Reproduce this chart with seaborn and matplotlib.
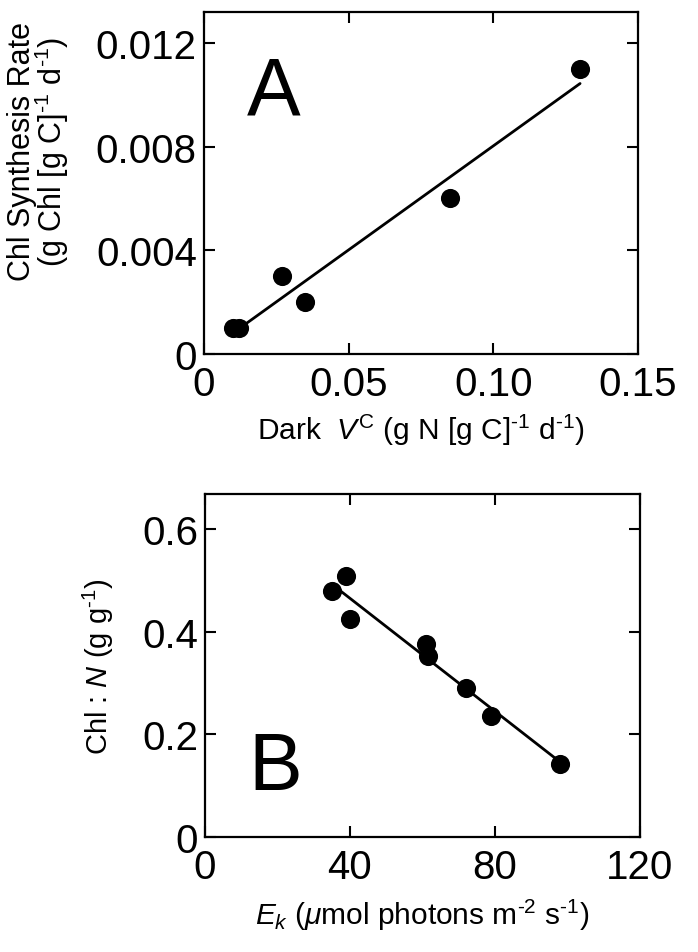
import numpy as np
import pandas as pd
import seaborn as sns
import matplotlib.pyplot as plt

# panel A: dark N uptake vs Chl synthesis rate
vc_dark = [0.010, 0.012, 0.027, 0.035, 0.085, 0.130]
chl_synth = [0.0010, 0.0010, 0.0030, 0.0020, 0.0060, 0.0110]

# panel B: Ek vs Chl:N
ek = [35, 39, 40, 61, 61.5, 72, 79, 98]
chl_n = [0.478, 0.509, 0.425, 0.375, 0.352, 0.290, 0.236, 0.143]

a_xticks = [0, 0.05, 0.10, 0.15]
a_xlabels = ["0", "0.05", "0.10", "0.15"]
a_yticks = [0, 0.004, 0.008, 0.012]
a_ylabels = ["0", "0.004", "0.008", "0.012"]
b_xticks = [0, 40, 80, 120]
b_xlabels = ["0", "40", "80", "120"]
b_yticks = [0, 0.2, 0.4, 0.6]
b_ylabels = ["0", "0.2", "0.4", "0.6"]

sns.set_theme(style="ticks")
plt.rcParams['font.family'] = ['Liberation Sans', 'DejaVu Sans']
plt.rcParams['mathtext.fontset'] = 'custom'
plt.rcParams['mathtext.rm'] = 'Liberation Sans'
plt.rcParams['mathtext.it'] = 'Liberation Sans:italic'
plt.rcParams['text.color'] = 'black'
plt.rcParams['axes.labelcolor'] = 'black'

fig = plt.figure(figsize=(6.98, 9.53), dpi=100)
ax1 = fig.add_axes([0.292, 0.6275, 0.622, 0.359])
ax2 = fig.add_axes([0.2937, 0.1207, 0.623, 0.360])

df_a = pd.DataFrame({'vc': vc_dark, 'rate': chl_synth})
df_b = pd.DataFrame({'ek': ek, 'chln': chl_n})

sns.regplot(data=df_a, x='vc', y='rate', ax=ax1, ci=None, color='black',
            scatter_kws={'s': 190, 'alpha': 1, 'linewidths': 0},
            line_kws={'lw': 2.0})
sns.regplot(data=df_b, x='ek', y='chln', ax=ax2, ci=None, color='black',
            scatter_kws={'s': 190, 'alpha': 1, 'linewidths': 0},
            line_kws={'lw': 2.0})

def style_axes(ax, xt, xl, yt, yl, xlim, ylim):
    ax.set_xlim(*xlim)
    ax.set_ylim(*ylim)
    ax.set_xticks(xt)
    ax.set_xticklabels(xl)
    ax.set_yticks(yt)
    ax.set_yticklabels(yl)
    ax.tick_params(direction='in', length=8, width=1.5, top=True, right=True,
                   labelsize=29, colors='black')
    ax.tick_params(axis='y', pad=5)
    ax.tick_params(axis='x', pad=8)
    for sp in ax.spines.values():
        sp.set_linewidth(1.6)
        sp.set_color('black')

style_axes(ax1, a_xticks, a_xlabels, a_yticks, a_ylabels, (0, 0.15), (0, 0.0132))
style_axes(ax2, b_xticks, b_xlabels, b_yticks, b_ylabels, (0, 120), (0, 0.668))

hy = "\u2010"
ax1.set_xlabel("Dark  $\\mathit{V}^{\\rm C}$ (g N [g C]$^{\\rm " + hy + "1}$ d$^{\\rm " + hy + "1}$)",
               fontsize=21.5, labelpad=6)
ax1.set_ylabel("Chl Synthesis Rate\n(g Chl [g C]$^{\\rm " + hy + "1}$ d$^{\\rm " + hy + "1}$)",
               fontsize=22, linespacing=0.88)
ax1.yaxis.set_label_coords(-0.305, 0.595)

ax2.set_xlabel("$\\mathit{E_k}$ ($\\mu$mol photons m$^{\\rm " + hy + "2}$ s$^{\\rm " + hy + "1}$)",
               fontsize=21.5, labelpad=8)
ax2.set_ylabel("Chl : $\\mathit{N}$ (g g$^{\\rm " + hy + "1}$)", fontsize=21)
ax2.yaxis.set_label_coords(-0.205, 0.5)

ax1.text(0.1, 0.875, "A", transform=ax1.transAxes, fontsize=58, va='top', ha='left')
ax2.text(0.1, 0.09, "B", transform=ax2.transAxes, fontsize=58, va='bottom', ha='left')

fig.savefig("out.png", dpi=100)
